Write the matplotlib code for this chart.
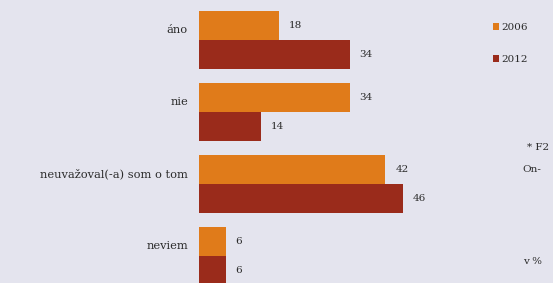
import matplotlib.pyplot as plt
import numpy as np

categories = ['áno', 'nie', 'neuvažoval(-a) som o tom', 'neviem']
v2006 = [18, 34, 42, 6]
v2012 = [34, 14, 46, 6]
years = ['2006', '2012']

bg = '#E4E4EE'
c2006 = '#E07B1A'
c2012 = '#9A2B1B'
txt = '#2A2A2A'
serif = ['DejaVu Serif']

fig = plt.figure(figsize=(5.53, 2.83), dpi=100, facecolor=bg)
ax = fig.add_axes([199 / 553, 0, 354 / 553, 1])
ax.set_facecolor(bg)

y = np.arange(len(categories))
h = 0.4
b1 = ax.barh(y - h / 2, v2006, height=h, color=c2006, label=years[0])
b2 = ax.barh(y + h / 2, v2012, height=h, color=c2012, label=years[1])

ax.set_xlim(0, 354 / 4.44)
ax.set_ylim(3.375, -0.556)
ax.axis('off')

for bars in (b1, b2):
    for r in bars:
        ax.text(r.get_width() + 2.2, r.get_y() + r.get_height() / 2, str(int(r.get_width())),
                va='center', ha='left', fontsize=7.5, color=txt, family=serif)

for i, c in enumerate(categories):
    ax.text(-2.5, i - 0.14, c, ha='right', va='center', fontsize=8.2,
            color=txt, family=serif, clip_on=False)

leg = fig.legend(handles=[b1, b2], loc='upper left', bbox_to_anchor=(488 / 553, 1 - 18 / 283),
                 frameon=False, fontsize=7.5, handlelength=0.6, handleheight=0.6,
                 handletextpad=0.2, labelspacing=2.2, borderpad=0)
for t in leg.get_texts():
    t.set_color(txt)
    t.set_family(serif)

fig.text(527 / 553, 1 - 147 / 283, '* F2', fontsize=7.5, color=txt, family=serif, va='center')
fig.text(522 / 553, 1 - 169 / 283, 'On-', fontsize=7.5, color=txt, family=serif, va='center')
fig.text(523 / 553, 1 - 262 / 283, 'v %', fontsize=7.5, color=txt, family=serif, va='center')

fig.savefig('out.png', dpi=100, facecolor=bg)
